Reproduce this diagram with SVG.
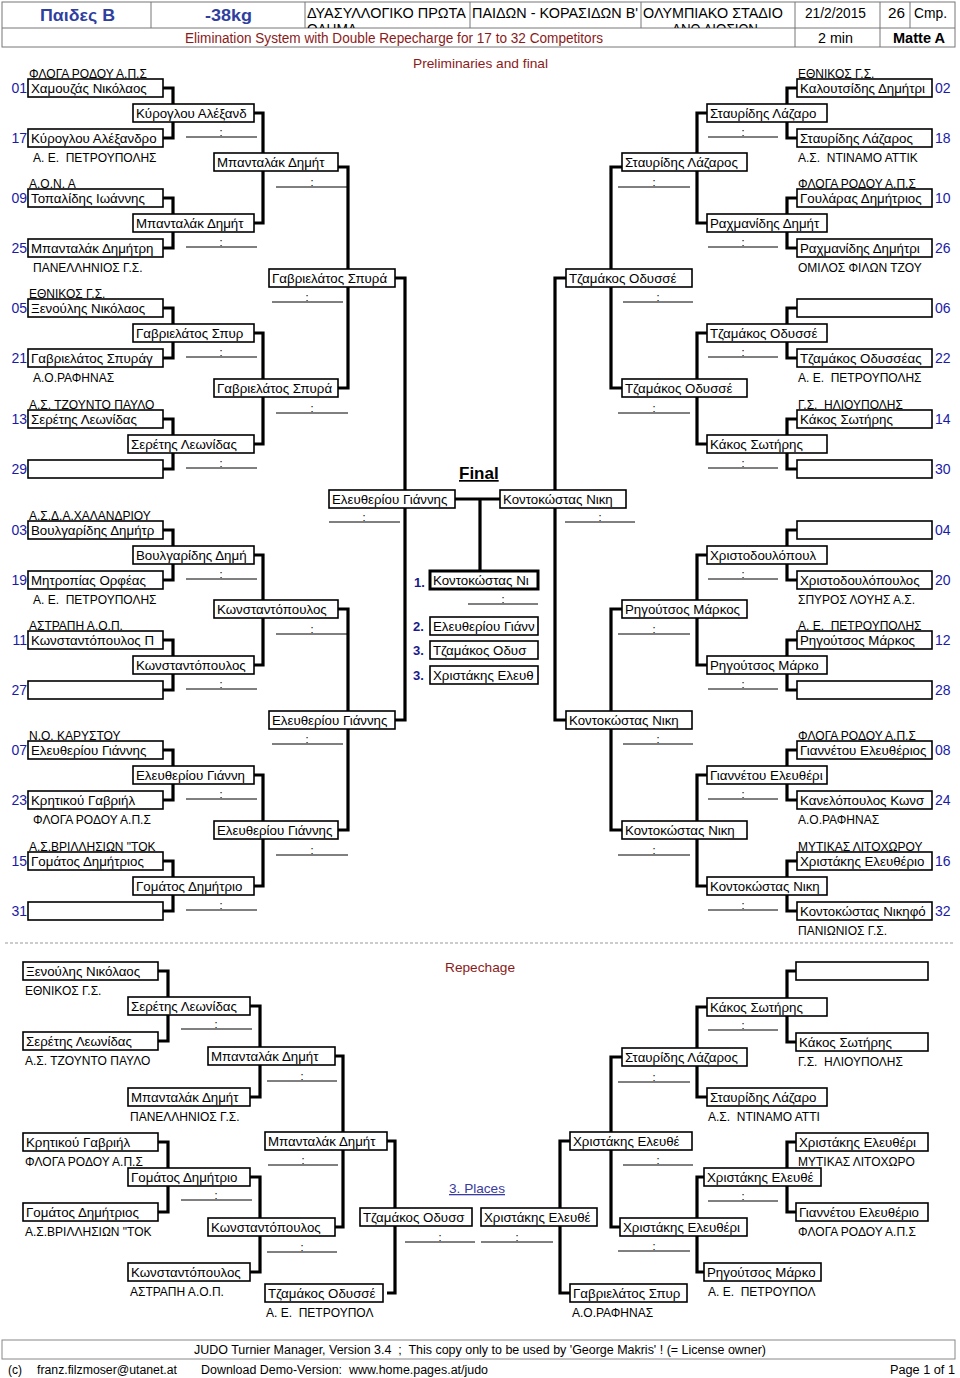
<svg xmlns="http://www.w3.org/2000/svg" width="960" height="1378" viewBox="0 0 960 1378">
<style>
text{font-family:"Liberation Sans",Arial,sans-serif;white-space:pre}
.bx{fill:#fff;stroke:#000;stroke-width:1.6}
.wb{fill:#fff;stroke:#000;stroke-width:3}
.cn{fill:none;stroke:#000;stroke-width:3.2}
.sc{stroke:#000;stroke-width:1}
.hl{stroke:#777;stroke-width:1;fill:none}
.nm{font-size:13.3px}
.cl{font-size:12px}
.no{font-size:14px;fill:#1a1aa8}
.co{font-size:11px;text-anchor:middle}
.rd{font-size:13px;fill:#8b1a1a}
.pl{font-size:13px;fill:#1a1a8a;font-weight:bold}
</style>
<defs>
<clipPath id="r1"><rect x="2" y="2" width="953" height="26"/></clipPath>
</defs>
<rect width="960" height="1378" fill="#fff"/>

<g id="header">
<rect class="hl" x="2" y="2" width="953" height="45"/>
<path class="hl" d="M2,28H955M151,2V28M305,2V28M470,2V28M641,2V28M795,2V47M880,2V47M910,2V28"/>
<text x="40" y="21" font-size="17" font-weight="bold" fill="#2f3f9f" textLength="75" lengthAdjust="spacingAndGlyphs">Παιδες Β</text>
<text x="205" y="21" font-size="17" font-weight="bold" fill="#2f3f9f" textLength="47" lengthAdjust="spacingAndGlyphs">-38kg</text>
<g clip-path="url(#r1)">
<text x="307" y="18" font-size="14" textLength="159" lengthAdjust="spacingAndGlyphs">ΔΥΑΣΥΛΛΟΓΙΚΟ ΠΡΩΤΑ</text>
<text x="307" y="34" font-size="14" textLength="50" lengthAdjust="spacingAndGlyphs">ΘΛΗΜΑ</text>
<text x="472" y="18" font-size="14" textLength="166" lengthAdjust="spacingAndGlyphs">ΠΑΙΔΩΝ - ΚΟΡΑΣΙΔΩΝ Β'</text>
<text x="643" y="18" font-size="14" textLength="140" lengthAdjust="spacingAndGlyphs">ΟΛΥΜΠΙΑΚΟ ΣΤΑΔΙΟ</text>
<text x="672" y="34" font-size="14" textLength="86" lengthAdjust="spacingAndGlyphs">ΑΝΩ ΛΙΟΣΙΩΝ</text>
</g>
<text x="805" y="18" font-size="14" textLength="61" lengthAdjust="spacingAndGlyphs">21/2/2015</text>
<text x="888" y="18" font-size="14" textLength="17" lengthAdjust="spacingAndGlyphs">26</text>
<text x="914" y="18" font-size="14" textLength="33" lengthAdjust="spacingAndGlyphs">Cmp.</text>
<text x="185" y="43" font-size="14" fill="#8b1a1a" textLength="418" lengthAdjust="spacingAndGlyphs">Elimination System with Double Repecharge for 17 to 32 Competitors</text>
<text x="818" y="43" font-size="14" textLength="35" lengthAdjust="spacingAndGlyphs">2 min</text>
<text x="893" y="43" font-size="14" font-weight="bold" textLength="52" lengthAdjust="spacingAndGlyphs">Matte A</text>
</g>

<text class="rd" x="413" y="68" textLength="135" lengthAdjust="spacingAndGlyphs">Preliminaries and final</text>
<text x="459" y="479" font-size="17" font-weight="bold" text-decoration="underline">Final</text>
<text class="rd" x="445" y="972" textLength="70" lengthAdjust="spacingAndGlyphs">Repechage</text>
<text x="449" y="1193" font-size="13" fill="#3a3aa0" text-decoration="underline" textLength="56" lengthAdjust="spacingAndGlyphs">3. Places</text>
<line x1="5" y1="943" x2="955" y2="943" stroke="#999" stroke-width="1" stroke-dasharray="3,2"/>

<g id="connectors">
<path class="cn" d="M163,88H173V138H163M163,198H173V248H163M163,308H173V358H163M163,419H173V469H163M163,530H173V580H163M163,640H173V690H163M163,750H173V800H163M163,861H173V911H163"/>
<path class="cn" d="M254,113H263V223H254M254,333H263V444H254M254,555H263V665H254M254,775H263V886H254"/>
<path class="cn" d="M338,167H348V388H338M338,609H348V830H338M395,278H405V720H395"/>
<path class="cn" d="M455,499H500M480,499V571"/>
<path class="cn" d="M797,88H787V138H797M797,198H787V248H797M797,308H787V358H797M797,419H787V469H797M797,530H787V580H797M797,640H787V690H797M797,750H787V800H797M797,861H787V911H797"/>
<path class="cn" d="M707,113H697V223H707M707,333H697V444H707M707,555H697V665H707M707,775H697V886H707"/>
<path class="cn" d="M622,167H611V388H622M622,609H611V830H622M566,278H555V720H566"/>
<path class="cn" d="M158,971H168V1041H158M158,1142H168V1212H158M250,1006H260V1097H250M250,1177H260V1272H250M335,1056H343V1227H335M387,1141H395V1293H387"/>
<path class="cn" d="M796,971H787V1042H796M796,1142H787V1212H796M707,1007H697V1097H707M704,1177H697V1272H704M622,1057H611V1227H622M570,1141H560V1293H570"/>
</g>

<g id="scores">
<g class="sc">
<path d="M186,137H257M186,247H257M186,357H257M186,468H257M186,579H257M186,689H257M186,799H257M186,910H257"/>
<path d="M276,187H348M276,413H348M276,634H348M276,855H348M272,302H343M272,744H343M329,522H400"/>
<path d="M708,137H778M708,247H778M708,357H778M708,468H778M708,579H778M708,689H778M708,799H778M708,910H778"/>
<path d="M618,187H690M618,413H690M618,634H690M618,855H690M623,302H693M623,744H693M565,522H635M468,604H538"/>
<path d="M181,1029H252M181,1200H252M267,1081H337M267,1252H337M268,1165H338M405,1242H475"/>
<path d="M708,1030H778M708,1201H778M618,1082H690M618,1251H690M623,1165H693M481,1242H553"/>
</g>
<g>
<text class="co" x="221" y="136">:</text><text class="co" x="221" y="246">:</text><text class="co" x="221" y="356">:</text><text class="co" x="221" y="467">:</text><text class="co" x="221" y="578">:</text><text class="co" x="221" y="688">:</text><text class="co" x="221" y="798">:</text><text class="co" x="221" y="909">:</text>
<text class="co" x="312" y="186">:</text><text class="co" x="312" y="412">:</text><text class="co" x="312" y="633">:</text><text class="co" x="312" y="854">:</text><text class="co" x="307" y="301">:</text><text class="co" x="307" y="743">:</text><text class="co" x="364" y="521">:</text>
<text class="co" x="743" y="136">:</text><text class="co" x="743" y="246">:</text><text class="co" x="743" y="356">:</text><text class="co" x="743" y="467">:</text><text class="co" x="743" y="578">:</text><text class="co" x="743" y="688">:</text><text class="co" x="743" y="798">:</text><text class="co" x="743" y="909">:</text>
<text class="co" x="654" y="186">:</text><text class="co" x="654" y="412">:</text><text class="co" x="654" y="633">:</text><text class="co" x="654" y="854">:</text><text class="co" x="658" y="301">:</text><text class="co" x="658" y="743">:</text><text class="co" x="600" y="521">:</text><text class="co" x="503" y="603">:</text>
<text class="co" x="216" y="1028">:</text><text class="co" x="216" y="1199">:</text><text class="co" x="302" y="1080">:</text><text class="co" x="302" y="1251">:</text><text class="co" x="303" y="1164">:</text><text class="co" x="440" y="1241">:</text>
<text class="co" x="743" y="1029">:</text><text class="co" x="743" y="1200">:</text><text class="co" x="654" y="1081">:</text><text class="co" x="654" y="1250">:</text><text class="co" x="658" y="1164">:</text><text class="co" x="517" y="1241">:</text>
</g>
</g>

<!-- Left round 1 -->
<g id="L01"><rect class="bx" x="28" y="79" width="135" height="18"/><text class="nm" x="31" y="93">Χαμουζάς Νικόλαος</text><text class="no" x="27" y="93" text-anchor="end">01</text><text class="cl" x="29" y="78">ΦΛΟΓΑ ΡΟΔΟΥ Α.Π.Σ</text></g>
<g id="L17"><rect class="bx" x="28" y="129" width="135" height="18"/><text class="nm" x="31" y="143">Κύρογλου Αλέξανδρο</text><text class="no" x="27" y="143" text-anchor="end">17</text><text class="cl" x="33" y="162">Α. Ε.  ΠΕΤΡΟΥΠΟΛΗΣ</text></g>
<g id="L09"><rect class="bx" x="28" y="189" width="135" height="18"/><text class="nm" x="31" y="203">Τοπαλίδης Ιωάννης</text><text class="no" x="27" y="203" text-anchor="end">09</text><text class="cl" x="29" y="188">Α.Ο.Ν. Α</text></g>
<g id="L25"><rect class="bx" x="28" y="239" width="135" height="18"/><text class="nm" x="31" y="253">Μπανταλάκ Δημήτρη</text><text class="no" x="27" y="253" text-anchor="end">25</text><text class="cl" x="33" y="272">ΠΑΝΕΛΛΗΝΙΟΣ Γ.Σ.</text></g>
<g id="L05"><rect class="bx" x="28" y="299" width="135" height="18"/><text class="nm" x="31" y="313">Ξενούλης Νικόλαος</text><text class="no" x="27" y="313" text-anchor="end">05</text><text class="cl" x="29" y="298">ΕΘΝΙΚΟΣ Γ.Σ.</text></g>
<g id="L21"><rect class="bx" x="28" y="349" width="135" height="18"/><text class="nm" x="31" y="363">Γαβριελάτος Σπυράγ</text><text class="no" x="27" y="363" text-anchor="end">21</text><text class="cl" x="33" y="382">Α.Ο.ΡΑΦΗΝΑΣ</text></g>
<g id="L13"><rect class="bx" x="28" y="410" width="135" height="18"/><text class="nm" x="31" y="424">Σερέτης Λεωνίδας</text><text class="no" x="27" y="424" text-anchor="end">13</text><text class="cl" x="29" y="409">Α.Σ. ΤΖΟΥΝΤΟ ΠΑΥΛΟ</text></g>
<g id="L29"><rect class="bx" x="28" y="460" width="135" height="18"/><text class="no" x="27" y="474" text-anchor="end">29</text></g>
<g id="L03"><rect class="bx" x="28" y="521" width="135" height="18"/><text class="nm" x="31" y="535">Βουλγαρίδης Δημήτρ</text><text class="no" x="27" y="535" text-anchor="end">03</text><text class="cl" x="29" y="520">Α.Σ.Δ.Α.ΧΑΛΑΝΔΡΙΟΥ</text></g>
<g id="L19"><rect class="bx" x="28" y="571" width="135" height="18"/><text class="nm" x="31" y="585">Μητροπίας Ορφέας</text><text class="no" x="27" y="585" text-anchor="end">19</text><text class="cl" x="33" y="604">Α. Ε.  ΠΕΤΡΟΥΠΟΛΗΣ</text></g>
<g id="L11"><rect class="bx" x="28" y="631" width="135" height="18"/><text class="nm" x="31" y="645">Κωνσταντόπουλος Π</text><text class="no" x="27" y="645" text-anchor="end">11</text><text class="cl" x="29" y="630">ΑΣΤΡΑΠΗ Α.Ο.Π.</text></g>
<g id="L27"><rect class="bx" x="28" y="681" width="135" height="18"/><text class="no" x="27" y="695" text-anchor="end">27</text></g>
<g id="L07"><rect class="bx" x="28" y="741" width="135" height="18"/><text class="nm" x="31" y="755">Ελευθερίου Γιάννης</text><text class="no" x="27" y="755" text-anchor="end">07</text><text class="cl" x="29" y="740">Ν.Ο. ΚΑΡΥΣΤΟΥ</text></g>
<g id="L23"><rect class="bx" x="28" y="791" width="135" height="18"/><text class="nm" x="31" y="805">Κρητικού Γαβριήλ</text><text class="no" x="27" y="805" text-anchor="end">23</text><text class="cl" x="33" y="824">ΦΛΟΓΑ ΡΟΔΟΥ Α.Π.Σ</text></g>
<g id="L15"><rect class="bx" x="28" y="852" width="135" height="18"/><text class="nm" x="31" y="866">Γομάτος Δημήτριος</text><text class="no" x="27" y="866" text-anchor="end">15</text><text class="cl" x="29" y="851">Α.Σ.ΒΡΙΛΛΗΣΙΩΝ "ΤΟΚ</text></g>
<g id="L31"><rect class="bx" x="28" y="902" width="135" height="18"/><text class="no" x="27" y="916" text-anchor="end">31</text></g>

<!-- Left round 2 -->
<g id="L2a"><rect class="bx" x="133" y="104" width="121" height="18"/><text class="nm" x="136" y="118">Κύρογλου Αλέξανδ</text></g>
<g id="L2b"><rect class="bx" x="133" y="214" width="121" height="18"/><text class="nm" x="136" y="228">Μπανταλάκ Δημήτ</text></g>
<g id="L2c"><rect class="bx" x="133" y="324" width="121" height="18"/><text class="nm" x="136" y="338">Γαβριελάτος Σπυρ</text></g>
<g id="L2d"><rect class="bx" x="128" y="435" width="126" height="18"/><text class="nm" x="131" y="449">Σερέτης Λεωνίδας</text></g>
<g id="L2e"><rect class="bx" x="133" y="546" width="121" height="18"/><text class="nm" x="136" y="560">Βουλγαρίδης Δημή</text></g>
<g id="L2f"><rect class="bx" x="133" y="656" width="121" height="18"/><text class="nm" x="136" y="670">Κωνσταντόπουλος</text></g>
<g id="L2g"><rect class="bx" x="133" y="766" width="121" height="18"/><text class="nm" x="136" y="780">Ελευθερίου Γιάννη</text></g>
<g id="L2h"><rect class="bx" x="133" y="877" width="121" height="18"/><text class="nm" x="136" y="891">Γομάτος Δημήτριο</text></g>

<!-- Left round 3 -->
<g id="L3a"><rect class="bx" x="214" y="153" width="124" height="18"/><text class="nm" x="217" y="167">Μπανταλάκ Δημήτ</text></g>
<g id="L3b"><rect class="bx" x="214" y="379" width="124" height="18"/><text class="nm" x="217" y="393">Γαβριελάτος Σπυρά</text></g>
<g id="L3c"><rect class="bx" x="214" y="600" width="124" height="18"/><text class="nm" x="217" y="614">Κωνσταντόπουλος</text></g>
<g id="L3d"><rect class="bx" x="214" y="821" width="124" height="18"/><text class="nm" x="217" y="835">Ελευθερίου Γιάννης</text></g>

<!-- Left round 4 -->
<g id="L4a"><rect class="bx" x="269" y="269" width="126" height="18"/><text class="nm" x="272" y="283">Γαβριελάτος Σπυρά</text></g>
<g id="L4b"><rect class="bx" x="269" y="711" width="126" height="18"/><text class="nm" x="272" y="725">Ελευθερίου Γιάννης</text></g>

<!-- Final -->
<g id="FL"><rect class="bx" x="329" y="490" width="126" height="18"/><text class="nm" x="332" y="504">Ελευθερίου Γιάννης</text></g>
<g id="FR"><rect class="bx" x="500" y="490" width="126" height="18"/><text class="nm" x="503" y="504">Κοντοκώστας Νικη</text></g>
<g id="P1"><rect class="wb" x="430" y="571" width="108" height="18"/><text class="nm" x="433" y="585">Κοντοκώστας Νι</text><text class="pl" x="414" y="587" font-size="15">1.</text></g>
<g id="P2"><rect class="bx" x="430" y="617" width="108" height="18"/><text class="nm" x="433" y="631">Ελευθερίου Γιάνν</text><text class="pl" x="413" y="631">2.</text></g>
<g id="P3a"><rect class="bx" x="430" y="641" width="108" height="18"/><text class="nm" x="433" y="655">Τζαμάκος Οδυσ</text><text class="pl" x="413" y="655">3.</text></g>
<g id="P3b"><rect class="bx" x="430" y="666" width="108" height="18"/><text class="nm" x="433" y="680">Χριστάκης Ελευθ</text><text class="pl" x="413" y="680">3.</text></g>

<!-- Right round 1 -->
<g id="R02"><rect class="bx" x="797" y="79" width="135" height="18"/><text class="nm" x="800" y="93">Καλουτσίδης Δημήτρι</text><text class="no" x="935" y="93">02</text><text class="cl" x="798" y="78">ΕΘΝΙΚΟΣ Γ.Σ.</text></g>
<g id="R18"><rect class="bx" x="797" y="129" width="135" height="18"/><text class="nm" x="800" y="143">Σταυρίδης Λάζαρος</text><text class="no" x="935" y="143">18</text><text class="cl" x="798" y="162">Α.Σ.  ΝΤΙΝΑΜΟ ΑΤΤΙΚ</text></g>
<g id="R10"><rect class="bx" x="797" y="189" width="135" height="18"/><text class="nm" x="800" y="203">Γουλάρας Δημήτριος</text><text class="no" x="935" y="203">10</text><text class="cl" x="798" y="188">ΦΛΟΓΑ ΡΟΔΟΥ Α.Π.Σ</text></g>
<g id="R26"><rect class="bx" x="797" y="239" width="135" height="18"/><text class="nm" x="800" y="253">Ραχμανίδης Δημήτρι</text><text class="no" x="935" y="253">26</text><text class="cl" x="798" y="272">ΟΜΙΛΟΣ ΦΙΛΩΝ ΤΖΟΥ</text></g>
<g id="R06"><rect class="bx" x="797" y="299" width="135" height="18"/><text class="no" x="935" y="313">06</text></g>
<g id="R22"><rect class="bx" x="797" y="349" width="135" height="18"/><text class="nm" x="800" y="363">Τζαμάκος Οδυσσέας</text><text class="no" x="935" y="363">22</text><text class="cl" x="798" y="382">Α. Ε.  ΠΕΤΡΟΥΠΟΛΗΣ</text></g>
<g id="R14"><rect class="bx" x="797" y="410" width="135" height="18"/><text class="nm" x="800" y="424">Κάκος Σωτήρης</text><text class="no" x="935" y="424">14</text><text class="cl" x="798" y="409">Γ.Σ.  ΗΛΙΟΥΠΟΛΗΣ</text></g>
<g id="R30"><rect class="bx" x="797" y="460" width="135" height="18"/><text class="no" x="935" y="474">30</text></g>
<g id="R04"><rect class="bx" x="797" y="521" width="135" height="18"/><text class="no" x="935" y="535">04</text></g>
<g id="R20"><rect class="bx" x="797" y="571" width="135" height="18"/><text class="nm" x="800" y="585">Χριστοδουλόπουλος</text><text class="no" x="935" y="585">20</text><text class="cl" x="798" y="604">ΣΠΥΡΟΣ ΛΟΥΗΣ Α.Σ.</text></g>
<g id="R12"><rect class="bx" x="797" y="631" width="135" height="18"/><text class="nm" x="800" y="645">Ρηγούτσος Μάρκος</text><text class="no" x="935" y="645">12</text><text class="cl" x="798" y="630">Α. Ε.  ΠΕΤΡΟΥΠΟΛΗΣ</text></g>
<g id="R28"><rect class="bx" x="797" y="681" width="135" height="18"/><text class="no" x="935" y="695">28</text></g>
<g id="R08"><rect class="bx" x="797" y="741" width="135" height="18"/><text class="nm" x="800" y="755">Γιαννέτου Ελευθέριος</text><text class="no" x="935" y="755">08</text><text class="cl" x="798" y="740">ΦΛΟΓΑ ΡΟΔΟΥ Α.Π.Σ</text></g>
<g id="R24"><rect class="bx" x="797" y="791" width="135" height="18"/><text class="nm" x="800" y="805">Κανελόπουλος Κωνσ</text><text class="no" x="935" y="805">24</text><text class="cl" x="798" y="824">Α.Ο.ΡΑΦΗΝΑΣ</text></g>
<g id="R16"><rect class="bx" x="797" y="852" width="135" height="18"/><text class="nm" x="800" y="866">Χριστάκης Ελευθέριο</text><text class="no" x="935" y="866">16</text><text class="cl" x="798" y="851">ΜΥΤΙΚΑΣ ΛΙΤΟΧΩΡΟΥ</text></g>
<g id="R32"><rect class="bx" x="797" y="902" width="135" height="18"/><text class="nm" x="800" y="916">Κοντοκώστας Νικηφό</text><text class="no" x="935" y="916">32</text><text class="cl" x="798" y="935">ΠΑΝΙΩΝΙΟΣ Γ.Σ.</text></g>

<!-- Right round 2 -->
<g id="R2a"><rect class="bx" x="707" y="104" width="120" height="18"/><text class="nm" x="710" y="118">Σταυρίδης Λάζαρο</text></g>
<g id="R2b"><rect class="bx" x="707" y="214" width="120" height="18"/><text class="nm" x="710" y="228">Ραχμανίδης Δημήτ</text></g>
<g id="R2c"><rect class="bx" x="707" y="324" width="120" height="18"/><text class="nm" x="710" y="338">Τζαμάκος Οδυσσέ</text></g>
<g id="R2d"><rect class="bx" x="707" y="435" width="120" height="18"/><text class="nm" x="710" y="449">Κάκος Σωτήρης</text></g>
<g id="R2e"><rect class="bx" x="707" y="546" width="120" height="18"/><text class="nm" x="710" y="560">Χριστοδουλόπουλ</text></g>
<g id="R2f"><rect class="bx" x="707" y="656" width="120" height="18"/><text class="nm" x="710" y="670">Ρηγούτσος Μάρκο</text></g>
<g id="R2g"><rect class="bx" x="707" y="766" width="120" height="18"/><text class="nm" x="710" y="780">Γιαννέτου Ελευθέρι</text></g>
<g id="R2h"><rect class="bx" x="707" y="877" width="120" height="18"/><text class="nm" x="710" y="891">Κοντοκώστας Νικη</text></g>

<!-- Right round 3 -->
<g id="R3a"><rect class="bx" x="622" y="153" width="125" height="18"/><text class="nm" x="625" y="167">Σταυρίδης Λάζαρος</text></g>
<g id="R3b"><rect class="bx" x="622" y="379" width="125" height="18"/><text class="nm" x="625" y="393">Τζαμάκος Οδυσσέ</text></g>
<g id="R3c"><rect class="bx" x="622" y="600" width="125" height="18"/><text class="nm" x="625" y="614">Ρηγούτσος Μάρκος</text></g>
<g id="R3d"><rect class="bx" x="622" y="821" width="125" height="18"/><text class="nm" x="625" y="835">Κοντοκώστας Νικη</text></g>

<!-- Right round 4 -->
<g id="R4a"><rect class="bx" x="566" y="269" width="126" height="18"/><text class="nm" x="569" y="283">Τζαμάκος Οδυσσέ</text></g>
<g id="R4b"><rect class="bx" x="566" y="711" width="126" height="18"/><text class="nm" x="569" y="725">Κοντοκώστας Νικη</text></g>

<!-- Repechage left -->
<g id="RL1a"><rect class="bx" x="23" y="962" width="135" height="18"/><text class="nm" x="26" y="976">Ξενούλης Νικόλαος</text><text class="cl" x="25" y="995">ΕΘΝΙΚΟΣ Γ.Σ.</text></g>
<g id="RL1b"><rect class="bx" x="23" y="1032" width="135" height="18"/><text class="nm" x="26" y="1046">Σερέτης Λεωνίδας</text><text class="cl" x="25" y="1065">Α.Σ. ΤΖΟΥΝΤΟ ΠΑΥΛΟ</text></g>
<g id="RL1c"><rect class="bx" x="23" y="1133" width="135" height="18"/><text class="nm" x="26" y="1147">Κρητικού Γαβριήλ</text><text class="cl" x="25" y="1166">ΦΛΟΓΑ ΡΟΔΟΥ Α.Π.Σ</text></g>
<g id="RL1d"><rect class="bx" x="23" y="1203" width="135" height="18"/><text class="nm" x="26" y="1217">Γομάτος Δημήτριος</text><text class="cl" x="25" y="1236">Α.Σ.ΒΡΙΛΛΗΣΙΩΝ "ΤΟΚ</text></g>
<g id="RL2a"><rect class="bx" x="128" y="997" width="122" height="18"/><text class="nm" x="131" y="1011">Σερέτης Λεωνίδας</text></g>
<g id="RL2b"><rect class="bx" x="128" y="1088" width="122" height="18"/><text class="nm" x="131" y="1102">Μπανταλάκ Δημήτ</text><text class="cl" x="130" y="1121">ΠΑΝΕΛΛΗΝΙΟΣ Γ.Σ.</text></g>
<g id="RL2c"><rect class="bx" x="128" y="1168" width="122" height="18"/><text class="nm" x="131" y="1182">Γομάτος Δημήτριο</text></g>
<g id="RL2d"><rect class="bx" x="128" y="1263" width="122" height="18"/><text class="nm" x="131" y="1277">Κωνσταντόπουλος</text><text class="cl" x="130" y="1296">ΑΣΤΡΑΠΗ Α.Ο.Π.</text></g>
<g id="RL3a"><rect class="bx" x="208" y="1047" width="127" height="18"/><text class="nm" x="211" y="1061">Μπανταλάκ Δημήτ</text></g>
<g id="RL3b"><rect class="bx" x="208" y="1218" width="127" height="18"/><text class="nm" x="211" y="1232">Κωνσταντόπουλος</text></g>
<g id="RL4a"><rect class="bx" x="265" y="1132" width="122" height="18"/><text class="nm" x="268" y="1146">Μπανταλάκ Δημήτ</text></g>
<g id="RL4b"><rect class="bx" x="265" y="1284" width="118" height="18"/><text class="nm" x="268" y="1298">Τζαμάκος Οδυσσέ</text><text class="cl" x="266" y="1317">Α. Ε.  ΠΕΤΡΟΥΠΟΛ</text></g>
<g id="RL5"><rect class="bx" x="360" y="1208" width="112" height="18"/><text class="nm" x="363" y="1222">Τζαμάκος Οδυσσ</text></g>

<!-- Repechage right -->
<g id="RR1a"><rect class="bx" x="796" y="962" width="132" height="18"/></g>
<g id="RR1b"><rect class="bx" x="796" y="1033" width="132" height="18"/><text class="nm" x="799" y="1047">Κάκος Σωτήρης</text><text class="cl" x="798" y="1066">Γ.Σ.  ΗΛΙΟΥΠΟΛΗΣ</text></g>
<g id="RR1c"><rect class="bx" x="796" y="1133" width="132" height="18"/><text class="nm" x="799" y="1147">Χριστάκης Ελευθέρι</text><text class="cl" x="798" y="1166">ΜΥΤΙΚΑΣ ΛΙΤΟΧΩΡΟ</text></g>
<g id="RR1d"><rect class="bx" x="796" y="1203" width="132" height="18"/><text class="nm" x="799" y="1217">Γιαννέτου Ελευθέριο</text><text class="cl" x="798" y="1236">ΦΛΟΓΑ ΡΟΔΟΥ Α.Π.Σ</text></g>
<g id="RR2a"><rect class="bx" x="707" y="998" width="120" height="18"/><text class="nm" x="710" y="1012">Κάκος Σωτήρης</text></g>
<g id="RR2b"><rect class="bx" x="707" y="1088" width="120" height="18"/><text class="nm" x="710" y="1102">Σταυρίδης Λάζαρο</text><text class="cl" x="708" y="1121">Α.Σ.  ΝΤΙΝΑΜΟ ΑΤΤΙ</text></g>
<g id="RR2c"><rect class="bx" x="704" y="1168" width="117" height="18"/><text class="nm" x="707" y="1182">Χριστάκης Ελευθέ</text></g>
<g id="RR2d"><rect class="bx" x="704" y="1263" width="117" height="18"/><text class="nm" x="707" y="1277">Ρηγούτσος Μάρκο</text><text class="cl" x="708" y="1296">Α. Ε.  ΠΕΤΡΟΥΠΟΛ</text></g>
<g id="RR3a"><rect class="bx" x="622" y="1048" width="125" height="18"/><text class="nm" x="625" y="1062">Σταυρίδης Λάζαρος</text></g>
<g id="RR3b"><rect class="bx" x="620" y="1218" width="127" height="18"/><text class="nm" x="623" y="1232">Χριστάκης Ελευθέρι</text></g>
<g id="RR4a"><rect class="bx" x="570" y="1132" width="122" height="18"/><text class="nm" x="573" y="1146">Χριστάκης Ελευθέ</text></g>
<g id="RR4b"><rect class="bx" x="570" y="1284" width="117" height="18"/><text class="nm" x="573" y="1298">Γαβριελάτος Σπυρ</text><text class="cl" x="572" y="1317">Α.Ο.ΡΑΦΗΝΑΣ</text></g>
<g id="RR5"><rect class="bx" x="481" y="1208" width="116" height="18"/><text class="nm" x="484" y="1222">Χριστάκης Ελευθέ</text></g>

<g id="footer">
<rect x="2" y="1340" width="953" height="19" fill="none" stroke="#888" stroke-width="1"/>
<text x="194" y="1354" font-size="12" textLength="572" lengthAdjust="spacingAndGlyphs">JUDO Turnier Manager, Version 3.4  ;  This copy only to be used by 'George Makris' ! (= License owner)</text>
<text x="8" y="1374" font-size="12" textLength="14" lengthAdjust="spacingAndGlyphs">(c)</text>
<text x="37" y="1374" font-size="12" textLength="140" lengthAdjust="spacingAndGlyphs">franz.filzmoser@utanet.at</text>
<text x="201" y="1374" font-size="12" textLength="287" lengthAdjust="spacingAndGlyphs">Download Demo-Version:  www.home.pages.at/judo</text>
<text x="890" y="1374" font-size="12" textLength="65" lengthAdjust="spacingAndGlyphs">Page 1 of 1</text>
</g>
</svg>
